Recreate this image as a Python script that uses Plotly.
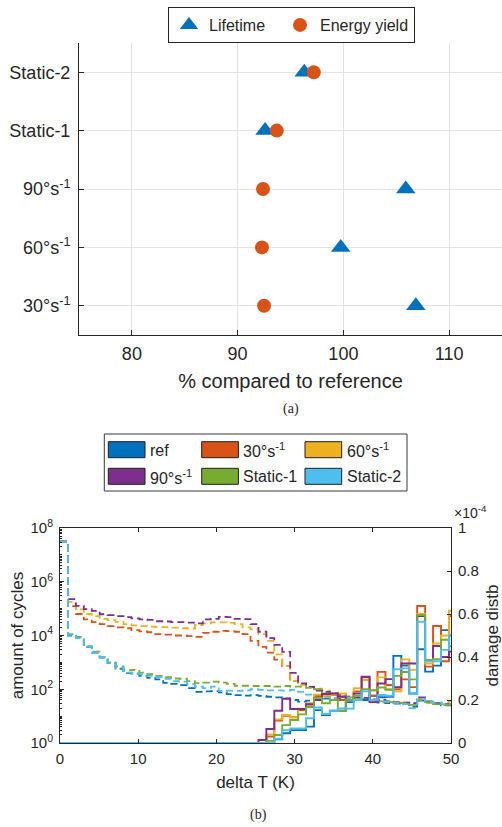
import plotly.graph_objects as go

W, H = 502, 827

# ---------------- (a) data ----------------
categories = ["30°s<sup>-1</sup>", "60°s<sup>-1</sup>", "90°s<sup>-1</sup>", "Static-1", "Static-2"]
lifetime = [106.85, 99.75, 105.9, 92.6, 96.3]
energy_yield = [92.5, 92.3, 92.4, 93.7, 97.2]
xticks_a = [80, 90, 100, 110]

# ---------------- (b) data ----------------
series_names = ["ref", "30°s<sup>-1</sup>", "60°s<sup>-1</sup>", "90°s<sup>-1</sup>", "Static-1", "Static-2"]
bin_width = 1.015  # K
n_bins = 50

# amount of cycles per bin, given as log10(count)
cycles_log10_ref = [7.5, 4.0, 3.9, 3.57, 3.36, 3.18, 2.97, 2.76, 2.6, 2.58,
                    2.5, 2.42, 2.37, 2.24, 2.2, 2.15, 2.04, 1.9, 1.92, 1.93,
                    1.88, 1.82, 1.78, 1.76, 1.78, 1.75, 1.72, 1.7, 1.66, 1.6,
                    1.54, 1.58, 1.62, 1.65, 1.66, 1.66, 1.62, 1.6, 1.62, 1.58,
                    1.5, 1.48, 1.47, 1.45, 1.35, 1.58, 1.5, 1.45, 1.4, 1.4]
cycles_log10_30 = [7.5, 5.09, 4.8, 4.6, 4.5, 4.42, 4.35, 4.3, 4.27, 4.2,
                   4.15, 4.12, 4.05, 4.03, 4.0, 4.0, 3.98, 3.95, 4.1, 4.14,
                   4.17, 4.16, 4.14, 4.05, 3.8, 3.58, 3.36, 3.1, 2.86, 2.3,
                   2.2, 2.08, 2.0, 1.9, 1.82, 1.75, 1.7, 1.68, 1.65, 1.6,
                   1.58, 1.55, 1.5, 1.48, 1.45, 1.68, 1.52, 1.45, 1.42, 1.42]
cycles_log10_60 = [7.5, 5.25, 4.97, 4.8, 4.72, 4.62, 4.57, 4.51, 4.42, 4.38,
                   4.35, 4.33, 4.32, 4.31, 4.29, 4.27, 4.26, 4.39, 4.45, 4.49,
                   4.49, 4.47, 4.42, 4.3, 4.23, 4.05, 3.8, 3.3, 2.86, 2.3,
                   2.16, 2.1, 2.02, 1.95, 1.85, 1.78, 1.72, 1.66, 1.64, 1.6,
                   1.57, 1.52, 1.5, 1.5, 1.46, 1.65, 1.5, 1.48, 1.5, 1.55]
cycles_log10_90 = [7.5, 5.35, 5.1, 4.98, 4.92, 4.79, 4.76, 4.72, 4.68, 4.64,
                   4.6, 4.58, 4.53, 4.52, 4.5, 4.5, 4.48, 4.45, 4.6, 4.62,
                   4.69, 4.68, 4.62, 4.61, 4.42, 4.14, 3.9, 3.65, 3.39, 2.61,
                   2.22, 2.09, 1.95, 1.9, 1.85, 1.8, 1.72, 1.7, 1.68, 1.62,
                   1.6, 1.55, 1.52, 1.5, 1.48, 1.7, 1.55, 1.48, 1.45, 1.45]
cycles_log10_s1 = [7.5, 4.05, 3.95, 3.6, 3.4, 3.2, 3.0, 2.85, 2.7, 2.72,
                   2.62, 2.56, 2.5, 2.45, 2.4, 2.39, 2.3, 2.23, 2.25, 2.28,
                   2.25, 2.2, 2.13, 2.13, 2.12, 2.12, 2.12, 2.1, 2.12, 2.1,
                   2.1, 2.05, 2.0, 1.85, 1.8, 1.7, 1.7, 1.65, 1.62, 1.6,
                   1.55, 1.52, 1.5, 1.48, 1.42, 1.6, 1.52, 1.45, 1.42, 1.42]
cycles_log10_s2 = [7.5, 4.02, 3.9, 3.58, 3.37, 3.2, 2.98, 2.8, 2.62, 2.6,
                   2.55, 2.5, 2.45, 2.39, 2.3, 2.28, 2.19, 2.1, 2.04, 2.1,
                   1.94, 1.95, 1.94, 1.96, 2.0, 1.98, 1.96, 1.96, 1.95, 1.98,
                   1.9, 1.8, 1.75, 1.7, 1.65, 1.72, 1.7, 1.62, 1.6, 1.58,
                   1.55, 1.55, 1.5, 1.45, 1.3, 1.65, 1.55, 1.5, 1.45, 1.45]

# damage distribution per bin, in units of 1e-4
damage_ref = [0, 0, 0, 0, 0, 0, 0, 0, 0, 0, 0, 0, 0, 0, 0, 0, 0, 0, 0, 0, 0, 0, 0, 0, 0,
              0, 0, 0.017, 0.045, 0.06, 0.06, 0.076, 0.153, 0.13, 0.15, 0.15, 0.19, 0.2,
              0.2, 0.22, 0.213, 0.215, 0.405, 0.36, 0.23, 0.436, 0.332, 0.36, 0.525, 0.5]
damage_30 = [0, 0, 0, 0, 0, 0, 0, 0, 0, 0, 0, 0, 0, 0, 0, 0, 0, 0, 0, 0, 0, 0, 0, 0, 0,
             0, 0.03, 0.104, 0.127, 0.12, 0.153, 0.17, 0.218, 0.22, 0.225, 0.2, 0.2, 0.24,
             0.305, 0.22, 0.331, 0.27, 0.25, 0.296, 0.26, 0.637, 0.355, 0.544, 0.38, 0.59]
damage_60 = [0, 0, 0, 0, 0, 0, 0, 0, 0, 0, 0, 0, 0, 0, 0, 0, 0, 0, 0, 0, 0, 0, 0, 0, 0,
             0, 0.04, 0.11, 0.13, 0.12, 0.16, 0.185, 0.225, 0.22, 0.23, 0.23, 0.2, 0.255,
             0.293, 0.245, 0.305, 0.25, 0.24, 0.389, 0.34, 0.6, 0.37, 0.463, 0.5, 0.615]
damage_90 = [0, 0, 0, 0, 0, 0, 0, 0, 0, 0, 0, 0, 0, 0, 0, 0, 0, 0, 0, 0, 0, 0, 0, 0, 0,
             0.014, 0.065, 0.15, 0.206, 0.158, 0.158, 0.18, 0.2, 0.228, 0.231, 0.216, 0.2,
             0.23, 0.308, 0.19, 0.277, 0.297, 0.26, 0.37, 0.37, 0.59, 0.386, 0.451, 0.4, 0.425]
damage_s1 = [0, 0, 0, 0, 0, 0, 0, 0, 0, 0, 0, 0, 0, 0, 0, 0, 0, 0, 0, 0, 0, 0, 0, 0, 0,
             0, 0.01, 0.037, 0.083, 0.107, 0.133, 0.166, 0.21, 0.185, 0.2, 0.15, 0.2, 0.22,
             0.25, 0.245, 0.258, 0.248, 0.312, 0.33, 0.296, 0.595, 0.386, 0.39, 0.48, 0.45]
damage_s2 = [0, 0, 0, 0, 0, 0, 0, 0, 0, 0, 0, 0, 0, 0, 0, 0, 0, 0, 0, 0, 0, 0, 0, 0, 0,
             0, 0, 0.02, 0.06, 0.068, 0.068, 0.115, 0.165, 0.135, 0.15, 0.161, 0.16, 0.2,
             0.24, 0.2, 0.223, 0.22, 0.343, 0.347, 0.23, 0.564, 0.38, 0.38, 0.433, 0.5]

cycles_all = [cycles_log10_ref, cycles_log10_30, cycles_log10_60,
              cycles_log10_90, cycles_log10_s1, cycles_log10_s2]
damage_all = [damage_ref, damage_30, damage_60, damage_90, damage_s1, damage_s2]

xticks_b = [0, 10, 20, 30, 40, 50]
ylog_tickvals = [1, 1e2, 1e4, 1e6, 1e8]
ylog_ticktext = ["10<sup>0</sup>", "10<sup>2</sup>", "10<sup>4</sup>", "10<sup>6</sup>", "10<sup>8</sup>"]
yr_tickvals = [0, 0.2, 0.4, 0.6, 0.8, 1]
yr_ticktext = ["0", "0.2", "0.4", "0.6", "0.8", "1"]

# ---------------- styling ----------------
colors = ["#0072BD", "#D95319", "#EDB120", "#7E2F8E", "#77AC30", "#4DBEEE"]
AX = "#262626"
FONT = "Liberation Sans, Arial, sans-serif"


def px_x(p):
    return p / W


def px_y(p):
    return 1 - p / H


edges = [bin_width * k for k in range(n_bins + 1)]

fig = go.Figure()

# (a)
fig.add_trace(go.Scatter(x=lifetime, y=categories, mode="markers", name="Lifetime",
                         marker=dict(symbol="triangle-up", size=17, color=colors[0]),
                         xaxis="x", yaxis="y", legendwidth=66))
fig.add_trace(go.Scatter(x=energy_yield, y=categories, mode="markers", name="Energy yield",
                         marker=dict(symbol="circle", size=14, color=colors[1]),
                         xaxis="x", yaxis="y"))

# (b) dashed: amount of cycles (left log axis)
for name, col, logs in zip(series_names, colors, cycles_all):
    counts = [10 ** v for v in logs]
    fig.add_trace(go.Scatter(x=edges, y=counts + [counts[-1]], mode="lines",
                             line=dict(color=col, width=1.8, dash="7px,4px", shape="hv"),
                             xaxis="x2", yaxis="y2", showlegend=False, name=name))
# (b) solid: damage distribution (right linear axis)
for name, col, dmg in zip(series_names, colors, damage_all):
    fig.add_trace(go.Scatter(x=edges, y=dmg + [dmg[-1]], mode="lines",
                             line=dict(color=col, width=1.9, shape="hv"),
                             xaxis="x2", yaxis="y3", showlegend=False, name=name))

minor_log = []
for d in range(8):
    for m in range(1, 10):
        v = m * 10 ** d
        if v not in ylog_tickvals:
            minor_log.append(v)

axis_common = dict(showline=True, linecolor=AX, linewidth=1, ticks="inside",
                   tickcolor=AX, zeroline=False, automargin=False)

fig.update_layout(
    template="none",
    width=W, height=H,
    margin=dict(l=0, r=0, t=0, b=0, autoexpand=False),
    paper_bgcolor="white", plot_bgcolor="white",
    font=dict(family=FONT, color=AX),
    xaxis=dict(domain=[px_x(79), 1.0], anchor="y", range=[75, 115], tickvals=xticks_a,
               showgrid=True, gridcolor="#e3e3e3", gridwidth=1, ticklen=5,
               ticklabelstandoff=2,
               tickfont=dict(size=18, color=AX),
               title=dict(text="% compared to reference", font=dict(size=20, color=AX), standoff=11),
               **axis_common),
    yaxis=dict(domain=[px_y(335), px_y(43)], anchor="x", type="category",
               categoryorder="array", categoryarray=categories, range=[-0.5, 4.5],
               showgrid=True, gridcolor="#e3e3e3", gridwidth=1, ticklen=5, ticklabelstandoff=4,
               tickfont=dict(size=18, color=AX),
               **axis_common),
    xaxis2=dict(domain=[px_x(60), px_x(451)], anchor="y2", range=[0, 50], tickvals=xticks_b,
                mirror="ticks", ticklen=4, showgrid=False, ticklabelstandoff=2,
                tickfont=dict(size=15, color=AX),
                title=dict(text="delta T (K)", font=dict(size=17, color=AX), standoff=10),
                **axis_common),
    yaxis2=dict(domain=[px_y(743), px_y(528)], anchor="x2", type="log", range=[0, 8],
                tickvals=ylog_tickvals, ticktext=ylog_ticktext, ticklen=4, showgrid=False,
                ticklabelstandoff=3,
                minor=dict(tickmode="array", tickvals=minor_log, ticks="inside", ticklen=2,
                           tickcolor=AX, showgrid=False),
                tickfont=dict(size=15, color=AX),
                title=dict(text="amount of cycles", font=dict(size=17, color=AX), standoff=2),
                **axis_common),
    yaxis3=dict(overlaying="y2", anchor="x2", side="right", range=[0, 1],
                tickvals=yr_tickvals, ticktext=yr_ticktext, ticklen=4, showgrid=False,
                ticklabelstandoff=3,
                tickfont=dict(size=15, color=AX),
                title=dict(text="damage distb", font=dict(size=17, color=AX), standoff=8),
                **axis_common),
    legend=dict(orientation="h", x=px_x(168), xanchor="left", y=px_y(7), yanchor="top",
                bordercolor=AX, borderwidth=1, bgcolor="white",
                font=dict(size=16, color=AX), itemclick=False, itemdoubleclick=False),
    showlegend=True,
)

# bottom legend (patch style, 3 columns x 2 rows)
shapes = [dict(type="rect", xref="paper", yref="paper",
               x0=px_x(104.3), x1=px_x(407), y0=px_y(491), y1=px_y(434),
               line=dict(color="#3a3a3a", width=1), fillcolor="white", layer="above")]
annotations = []
col_x = [108.3, 201.7, 305.0]
row_y = [441.7, 468.3]
for i, (name, col) in enumerate(zip(series_names, colors)):
    r, c = divmod(i, 3)
    x0 = col_x[c]
    y0 = row_y[r]
    shapes.append(dict(type="rect", xref="paper", yref="paper",
                       x0=px_x(x0), x1=px_x(x0 + 36.7), y0=px_y(y0 + 16), y1=px_y(y0),
                       line=dict(color="#1f1f1f", width=1), fillcolor=col, layer="above"))
    annotations.append(dict(text=name, xref="paper", yref="paper", x=px_x(x0 + 39.5),
                            y=px_y(y0 + 8.5), xanchor="left", yanchor="middle",
                            showarrow=False, font=dict(size=16, color=AX, family=FONT)))

annotations += [
    dict(text="(a)", xref="paper", yref="paper", x=px_x(291), y=px_y(409),
         xanchor="center", yanchor="middle", showarrow=False,
         font=dict(family="Liberation Serif, serif", size=14, color=AX)),
    dict(text="(b)", xref="paper", yref="paper", x=px_x(258), y=px_y(815),
         xanchor="center", yanchor="middle", showarrow=False,
         font=dict(family="Liberation Serif, serif", size=14, color=AX)),
    dict(text="×10<sup>-4</sup>", xref="paper", yref="paper", x=px_x(452), y=px_y(512),
         xanchor="left", yanchor="middle", showarrow=False,
         font=dict(size=14, color=AX, family=FONT)),
]

fig.update_layout(shapes=shapes, annotations=annotations)

# remove the browser's default 8px page margin so the 502x827 figure fills the window
fig.write_html("out.html", config={"displayModeBar": False},
               post_script="document.body.style.margin='0';document.body.style.overflow='hidden';")
